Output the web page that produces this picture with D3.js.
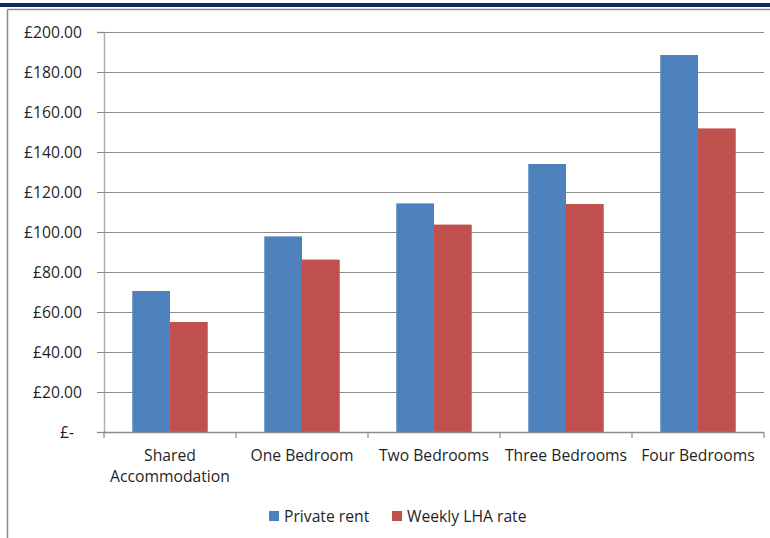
<!DOCTYPE html>
<html>
<head>
<meta charset="utf-8">
<script src="https://cdn.jsdelivr.net/npm/d3@7"></script>
<style>
  body { margin: 0; background: #fff; }
  svg { display: block; }
  text { font-family: "Open Sans", Lato, sans-serif; fill: #1f1f1f; }
</style>
</head>
<body>
<div id="chart"></div>
<script>
const categories = ["Shared\nAccommodation", "One Bedroom", "Two Bedrooms", "Three Bedrooms", "Four Bedrooms"];
const seriesNames = ["Private rent", "Weekly LHA rate"];
const privateRent = [70.5, 97.8, 114.3, 134, 188.5];
const lhaRate = [55, 86.2, 103.7, 114, 151.8];
const yTicks = [0, 20, 40, 60, 80, 100, 120, 140, 160, 180, 200];
const colours = ["#4F81BD", "#C0504D"];

const W = 770, H = 538;
const PLOT = { LEFT: 104, RIGHT: 764, TOP: 32, BOTTOM: 432 };
const FONT = 15.7;

const svg = d3.select("#chart").append("svg")
  .attr("width", W)
  .attr("height", H);

// header band and frame
svg.append("rect").attr("x", 0).attr("y", 3).attr("width", W).attr("height", 4).attr("fill", "#0F2A5E");
svg.append("line").attr("x1", 7.5).attr("x2", W).attr("y1", 9.5).attr("y2", 9.5).attr("stroke", "#8C8C8C").attr("stroke-width", 1.5);
svg.append("line").attr("x1", 7.5).attr("x2", 7.5).attr("y1", 9.5).attr("y2", H).attr("stroke", "#8C8C8C").attr("stroke-width", 1.5);

const x = d3.scaleBand()
  .domain(categories)
  .range([PLOT.LEFT, PLOT.RIGHT])
  .paddingInner(0)
  .paddingOuter(0);

const inner = d3.scaleBand()
  .domain(seriesNames)
  .range([0, x.bandwidth()])
  .paddingOuter(0.75)
  .paddingInner(0);

const y = d3.scaleLinear()
  .domain([0, 200])
  .range([PLOT.BOTTOM, PLOT.TOP]);

// y axis
const yAxis = d3.axisLeft(y)
  .tickValues(yTicks)
  .tickSize(7)
  .tickPadding(15)
  .tickFormat(d => d === 0 ? "£-" : "£" + d3.format(".2f")(d));

const yg = svg.append("g")
  .attr("transform", `translate(${PLOT.LEFT},0)`)
  .call(yAxis);
yg.select(".domain").attr("stroke", "#B0B0B0").attr("stroke-width", 1.5);
yg.selectAll(".tick line").attr("stroke", "#8C8C8C");
yg.selectAll(".tick text").attr("font-size", FONT).style("fill", "#1f1f1f");
yg.selectAll(".tick").filter(d => d === 0).select("text").attr("dx", -8);

// gridlines
svg.append("g").selectAll("line")
  .data(yTicks.filter(d => d > 0))
  .join("line")
    .attr("x1", PLOT.LEFT)
    .attr("x2", PLOT.RIGHT)
    .attr("y1", d => y(d) + 0.5)
    .attr("y2", d => y(d) + 0.5)
    .attr("stroke", "#8C8C8C")
    .attr("stroke-width", 1.2);

// bars
const rows = categories.map((c, i) => ({ cat: c, values: [privateRent[i], lhaRate[i]] }));
const groups = svg.append("g").selectAll("g")
  .data(rows)
  .join("g")
    .attr("transform", d => `translate(${x(d.cat)},0)`);

groups.selectAll("rect")
  .data(d => d.values.map((v, j) => ({ name: seriesNames[j], v, j })))
  .join("rect")
    .attr("x", d => inner(d.name))
    .attr("width", inner.bandwidth())
    .attr("y", d => y(d.v))
    .attr("height", d => y(0) - y(d.v))
    .attr("fill", d => colours[d.j]);

// x axis
const xg = svg.append("g")
  .attr("transform", `translate(0,${PLOT.BOTTOM})`);
xg.append("line")
  .attr("x1", PLOT.LEFT).attr("x2", PLOT.RIGHT)
  .attr("y1", 0.5).attr("y2", 0.5)
  .attr("stroke", "#8C8C8C").attr("stroke-width", 1.5);
xg.selectAll("line.tick")
  .data(categories.map(c => x(c)).concat([PLOT.RIGHT]))
  .join("line")
    .attr("class", "tick")
    .attr("x1", d => d).attr("x2", d => d)
    .attr("y1", 0).attr("y2", 6)
    .attr("stroke", "#8C8C8C").attr("stroke-width", 1.2);

xg.selectAll("text")
  .data(categories)
  .join("text")
    .attr("x", d => x(d) + x.bandwidth() / 2)
    .attr("y", 29)
    .attr("text-anchor", "middle")
    .attr("font-size", FONT)
    .each(function (d) {
      const parts = d.split("\n");
      d3.select(this).selectAll("tspan")
        .data(parts)
        .join("tspan")
          .attr("x", x(d) + x.bandwidth() / 2)
          .attr("dy", (p, i) => i === 0 ? 0 : 21)
          .text(p => p);
    });

// legend
const legendX = [269, 392];
const lg = svg.append("g").selectAll("g")
  .data(seriesNames)
  .join("g")
    .attr("transform", (d, i) => `translate(${legendX[i]},511)`);
lg.append("rect")
  .attr("width", 10).attr("height", 10)
  .attr("fill", (d, i) => colours[i]);
lg.append("text")
  .attr("x", 15).attr("y", 11)
  .attr("font-size", FONT)
  .text(d => d);
</script>
</body>
</html>
